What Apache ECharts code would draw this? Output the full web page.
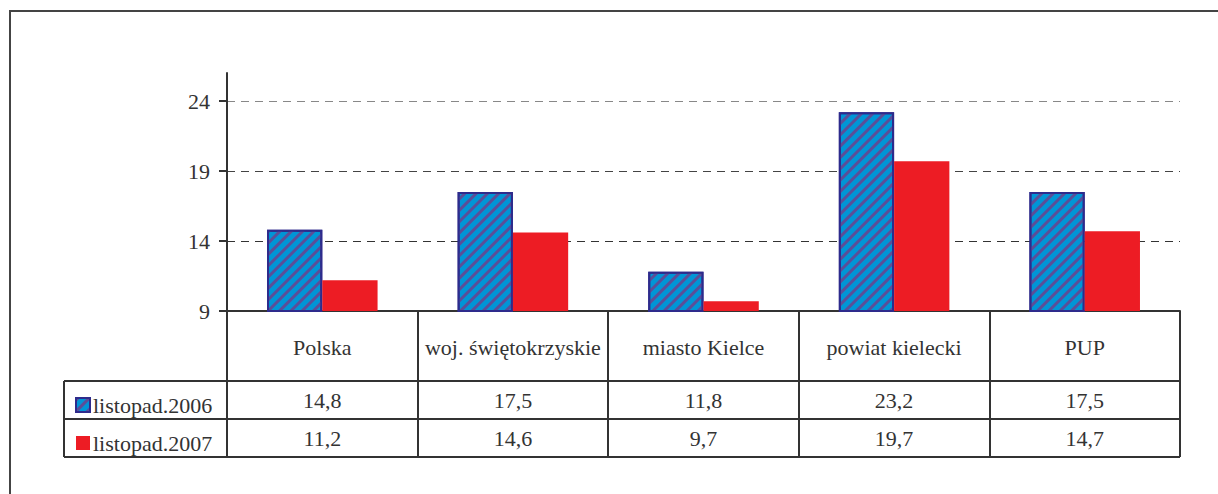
<!DOCTYPE html>
<html>
<head>
<meta charset="utf-8">
<script src="https://cdn.jsdelivr.net/npm/echarts@6/dist/echarts.min.js"></script>
<style>
  html, body { margin: 0; padding: 0; background: #fff; }
  #chart { width: 1218px; height: 494px; }
</style>
</head>
<body>
<div id="chart"></div>
<script>
// dane z wykresu
const categories = ['Polska', 'woj. świętokrzyskie', 'miasto Kielce', 'powiat kielecki', 'PUP'];
const seriesNames = ['listopad.2006', 'listopad.2007'];
const v2006 = [14.8, 17.5, 11.8, 23.2, 17.5];
const v2007 = [11.2, 14.6, 9.7, 19.7, 14.7];
const yTicks = [9, 14, 19, 24];

const fmt = (v) => String(v).replace('.', ',');

// uklad
const W = 1218, H = 494;
const gridLeft = 227, gridRight = 38, gridTop = 73, gridBottom = 183;
const axisY = H - gridBottom;          // 311
const rowH = [70, 38, 38];             // naglowek + dwa wiersze
const tableLeft = 64;
const tableRight = W - gridRight;
const font = "'Liberation Serif', serif";
const fs = 22;
const textColor = '#333';

const chart = echarts.init(document.getElementById('chart'), null, { renderer: 'svg' });

const y1 = axisY + rowH[0];
const y2 = y1 + rowH[1];
const y3 = y2 + rowH[2];

const rowAxis = (data, margin) => ({
  type: 'category',
  position: 'bottom',
  offset: 0,
  data: data,
  axisLine: { show: false },
  axisTick: { show: false },
  axisLabel: { interval: 0, margin: margin, fontSize: fs, color: textColor, fontFamily: font }
});

const option = {
  animation: false,
  backgroundColor: '#fff',
  textStyle: { fontFamily: font },
  grid: { left: gridLeft, right: gridRight, top: gridTop, bottom: gridBottom, outerBoundsMode: 'none', containLabel: false },
  legend: {
    orient: 'vertical',
    left: 70,
    top: y1 + 8,
    icon: 'rect',
    itemWidth: 14,
    itemHeight: 14,
    itemGap: 16,
    data: seriesNames,
    textStyle: { fontFamily: font, fontSize: fs, color: textColor, padding: [0, 0, 0, -2] }
  },
  xAxis: [
    {
      type: 'category',
      position: 'bottom',
      data: categories,
      axisLine: { lineStyle: { color: '#333', width: 2 } },
      axisTick: { show: true, interval: 0, length: rowH[0] + rowH[1] + rowH[2], lineStyle: { color: '#333', width: 2 } },
      axisLabel: { interval: 0, margin: 25, fontSize: fs, color: textColor, fontFamily: font }
    },
    rowAxis(v2006.map(fmt), 78),
    rowAxis(v2007.map(fmt), 116)
  ],
  yAxis: {
    type: 'value',
    min: 9,
    max: 26,
    interval: 5,
    axisLine: { show: true, lineStyle: { color: '#333', width: 2 } },
    axisTick: { show: true, length: 8, lineStyle: { color: '#333', width: 2 }, customValues: yTicks },
    axisLabel: { fontSize: fs, color: textColor, fontFamily: font, margin: 17, customValues: yTicks },
    splitLine: {
      show: true,
      lineStyle: { color: ['transparent', '#333', '#444', '#888', 'transparent'], type: [8, 6], width: 1 }
    }
  },
  series: [
    {
      name: seriesNames[0],
      type: 'bar',
      data: v2006,
      barGap: 0,
      barCategoryGap: '42%',
      itemStyle: {
        color: '#0095d6',
        borderColor: '#2e2b8c',
        borderWidth: 2,
        decal: {
          symbol: 'rect',
          symbolSize: 1,
          color: '#5b4e98',
          dashArrayX: [1, 0],
          dashArrayY: [3, 5],
          rotation: -Math.PI / 4
        }
      }
    },
    {
      name: seriesNames[1],
      type: 'bar',
      data: v2007,
      itemStyle: { color: '#ed1c24' }
    }
  ],
  graphic: [
    // ramka
    { type: 'rect', shape: { x: 10, y: 11, width: W + 20, height: H + 20 }, style: { fill: 'none', stroke: '#444', lineWidth: 2 }, silent: true },
    // linie tabeli
    { type: 'line', shape: { x1: tableLeft, y1: y1, x2: tableRight, y2: y1 }, style: { stroke: '#333', lineWidth: 2 } },
    { type: 'line', shape: { x1: tableLeft, y1: y2, x2: tableRight, y2: y2 }, style: { stroke: '#333', lineWidth: 2 } },
    { type: 'line', shape: { x1: tableLeft, y1: y3, x2: tableRight, y2: y3 }, style: { stroke: '#333', lineWidth: 2 } },
    { type: 'line', shape: { x1: tableLeft, y1: y1, x2: tableLeft, y2: y3 }, style: { stroke: '#333', lineWidth: 2 } }
  ]
};

chart.setOption(option);
</script>
</body>
</html>
